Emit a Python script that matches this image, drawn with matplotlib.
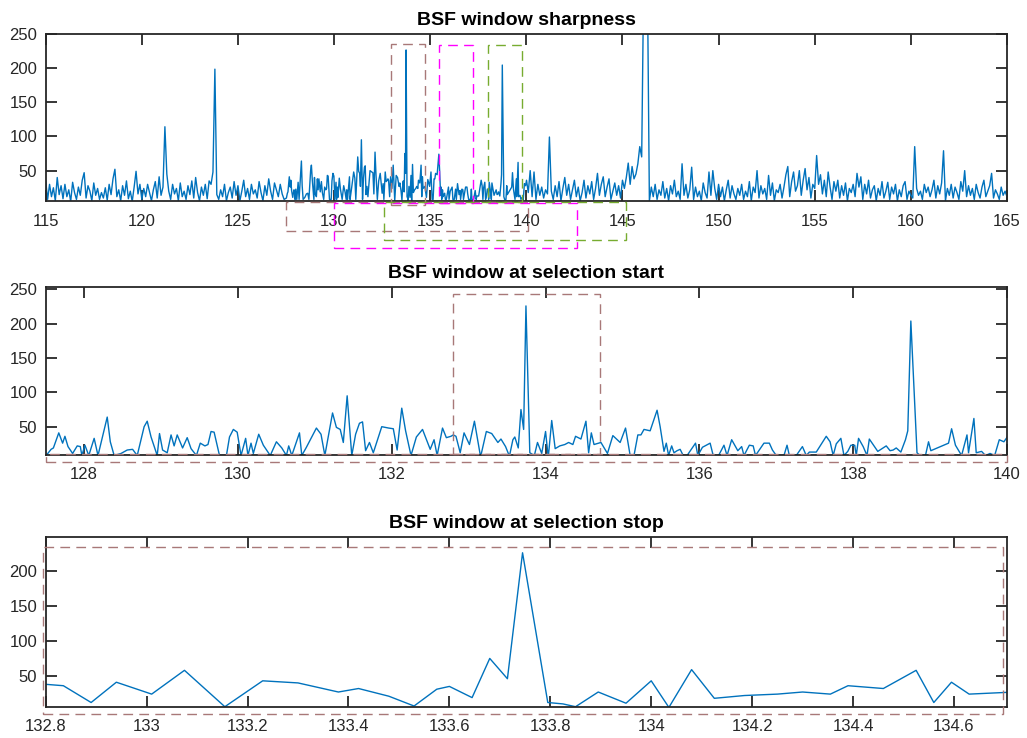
import numpy as np
import matplotlib.pyplot as plt
from matplotlib.patches import Rectangle
from matplotlib.ticker import FuncFormatter


plt.rcParams['font.family'] = ['Liberation Sans', 'DejaVu Sans']

# sharpness, coarse part left of the zoomed window (115.0 .. 127.4, step 0.1)
LEFT_START = 115.0
Y_LEFT = [
    35, 8, 30, 12, 25, 6, 40, 15, 28, 9,
    30, 12, 22, 5, 33, 18, 8, 26, 14, 36,
    47, 10, 28, 20, 6, 32, 14, 24, 8, 18,
    10, 25, 7, 30, 15, 38, 52, 12, 22, 6,
    28, 14, 35, 9, 20, 5, 26, 49, 16, 30,
    8, 24, 12, 30, 18, 6, 22, 34, 10, 41,
    14, 26, 114, 45, 20, 8, 30, 16, 24, 6,
    32, 12, 20, 8, 28, 15, 35, 10, 40, 18,
    6, 26, 14, 30, 9, 35, 30, 48, 198, 15,
    8, 22, 12, 30, 6, 18, 26, 10, 34, 14,
    28, 6, 20, 36, 12, 24, 8, 30, 16, 22,
    10, 34, 18, 6, 28, 14, 38, 20, 8, 32,
    22, 12, 30, 16, 8,
]

# sharpness, fine part (127.5 .. 140)
X_MID = [
    127.52, 127.57, 127.60, 127.67, 127.72, 127.75, 127.79, 127.85, 127.91, 127.95,
    127.97, 128.01, 128.06, 128.13, 128.18, 128.30, 128.34, 128.39, 128.48, 128.56,
    128.63, 128.69, 128.78, 128.82, 128.87, 128.95, 128.98, 129.02, 129.08, 129.13,
    129.17, 129.21, 129.28, 129.34, 129.39, 129.46, 129.51, 129.57, 129.61, 129.65,
    129.69, 129.76, 129.85, 129.89, 129.94, 129.99, 130.04, 130.10, 130.13, 130.17,
    130.20, 130.27, 130.33, 130.42, 130.50, 130.57, 130.63, 130.66, 130.70, 130.80,
    130.83, 130.89, 131.02, 131.08, 131.13, 131.23, 131.28, 131.33, 131.37, 131.42,
    131.48, 131.53, 131.58, 131.62, 131.66, 131.71, 131.76, 131.87, 131.96, 132.02,
    132.07, 132.13, 132.18, 132.25, 132.32, 132.40, 132.50, 132.55, 132.59, 132.66,
    132.71, 132.77,
    132.80, 132.835, 132.89, 132.94, 133.01, 133.075, 133.155, 133.23, 133.30, 133.38,
    133.42, 133.48, 133.53, 133.575, 133.60, 133.645, 133.68, 133.715, 133.745, 133.795,
    133.825, 133.85, 133.895, 133.95, 134.00, 134.035, 134.08, 134.125, 134.185, 134.25,
    134.30, 134.355, 134.39, 134.46, 134.525, 134.56, 134.595, 134.63, 134.72,
    134.805, 134.875, 134.97, 135.04, 135.10, 135.15, 135.20, 135.24, 135.28, 135.36,
    135.45, 135.49, 135.54, 135.57, 135.60, 135.64, 135.67, 135.71, 135.75, 135.79,
    135.84, 135.95, 135.98, 136.04, 136.14, 136.18, 136.25, 136.32, 136.36, 136.42,
    136.50, 136.55, 136.58, 136.65, 136.70, 136.73, 136.84, 136.91, 136.95, 137.00,
    137.10, 137.14, 137.17, 137.26, 137.34, 137.39, 137.43, 137.52, 137.65, 137.70,
    137.74, 137.78, 137.84, 137.88, 137.93, 137.97, 138.02, 138.04, 138.07, 138.13,
    138.18, 138.21, 138.32, 138.43, 138.48, 138.52, 138.56, 138.62, 138.68, 138.71,
    138.75, 138.83, 138.87, 138.94, 138.98, 139.01, 139.24, 139.28, 139.33, 139.41,
    139.48, 139.50, 139.57, 139.60, 139.67, 139.72, 139.78, 139.84, 139.90, 139.96,
    140.01,
]
Y_MID = [
    10, 17, 19, 41, 26, 36, 21, 11, 22, 21,
    8, 23, 8, 33, 8, 64, 28, 8, 11, 16,
    17, 8, 50, 58, 35, 8, 40, 16, 12, 38,
    22, 38, 19, 34, 18, 8, 26, 22, 24, 43,
    42, 8, 8, 35, 46, 42, 8, 33, 8, 26,
    11, 39, 23, 8, 28, 19, 8, 22, 8, 41,
    8, 20, 48, 39, 8, 70, 49, 46, 27, 95,
    8, 39, 55, 57, 15, 27, 12, 50, 48, 47,
    16, 77, 44, 8, 35, 46, 17, 31, 8, 48,
    34, 36,
    38, 36, 12, 41, 24, 58, 6, 43, 40, 27,
    32, 21, 7, 31, 35, 19, 75, 46, 226, 12,
    10, 6, 27, 11, 43, 5, 59, 18, 22, 24,
    27, 24, 36, 32, 58, 12, 41, 24, 27,
    11, 37, 27, 48, 8, 8, 38, 38, 46, 44,
    74, 50, 14, 26, 8, 22, 12, 15, 17, 8,
    8, 26, 8, 20, 26, 8, 8, 23, 8, 31,
    15, 21, 8, 23, 22, 8, 26, 26, 16, 8,
    8, 23, 8, 8, 21, 8, 13, 13, 36, 28,
    8, 25, 33, 8, 14, 23, 23, 8, 33, 21,
    8, 32, 14, 22, 15, 16, 19, 13, 31, 44,
    204, 12, 8, 8, 28, 15, 26, 47, 23, 8,
    38, 12, 62, 12, 14, 8, 11, 8, 31, 28,
    36,
]

# sharpness, coarse part right of the zoomed window (140.1 .. 165.0, step 0.1)
RIGHT_START = 140.1
Y_RIGHT = [
    18, 50, 12, 48, 8, 30, 14, 26, 10, 22,
    16, 99, 20, 8, 28, 12, 34, 6, 24, 40,
    14, 30, 8, 22, 36, 12, 26, 6, 18, 36,
    10, 28, 16, 34, 8, 24, 46, 14, 30, 41,
    12, 26, 38, 8, 20, 32, 14, 28, 10, 36,
    24, 40, 61, 30, 56, 38, 45, 60, 85, 70,
    320, 330, 320, 6, 26, 12, 30, 8, 22, 14,
    34, 10, 24, 6, 28, 16, 36, 12, 20, 8,
    60, 14, 30, 10, 22, 55, 8, 26, 12, 20,
    6, 32, 18, 10, 48, 14, 50, 24, 8, 30,
    12, 26, 6, 22, 36, 10, 28, 16, 8, 24,
    14, 30, 8, 20, 12, 34, 6, 26, 18, 50,
    10, 28, 16, 24, 8, 43, 14, 32, 6, 22,
    18, 30, 10, 26, 44, 56, 12, 34, 48, 20,
    28, 50, 14, 36, 53, 22, 40, 10, 30, 24,
    72, 30, 44, 16, 36, 12, 48, 26, 8, 34,
    20, 36, 10, 28, 14, 32, 6, 24, 18, 30,
    12, 46, 26, 41, 8, 30, 16, 36, 10, 22,
    28, 6, 24, 14, 34, 10, 20, 33, 8, 26,
    16, 30, 6, 22, 12, 28, 34, 8, 20, 14,
    10, 85, 24, 14, 20, 8, 30, 18, 26, 12,
    22, 36, 10, 28, 16, 32, 79, 6, 24, 14,
    30, 10, 26, 18, 8, 34, 20, 50, 12, 28,
    14, 24, 8, 30, 18, 10, 26, 36, 12, 20,
    28, 46, 10, 22, 16, 8, 26, 14, 20, 12,
]

# selection boxes: (x0, x1, y0, y1, colour key)
BOXES_TOP = [
    (132.97, 134.71, 0.3, 234.6, 'brown'),
    (135.48, 137.20, 3.0, 233.2, 'magenta'),
    (138.03, 139.77, 4.7, 233.2, 'green'),
    (127.50, 140.10, -38.1, 4.7, 'brown'),
    (130.00, 142.66, -63.4, 3.0, 'magenta'),
    (132.60, 145.20, -50.6, 4.7, 'green'),
]
BOXES_MID = [
    (132.80, 134.71, 9.5, 242.7, 'brown'),
    (127.50, 140.00, -1.0, 9.5, 'brown'),
]
BOXES_BOT = [
    (132.795, 134.698, -4.7, 234.7, 'brown'),
]

TITLES = ['BSF window sharpness', 'BSF window at selection start', 'BSF window at selection stop']
XLIMS = [(115, 165), (127.5, 140), (132.8, 134.705)]
YLIMS = [(5, 250), (9.2, 254), (6, 249)]
XTICKS = [np.arange(115, 166, 5), np.arange(128, 141, 2), np.arange(132.8, 134.65, 0.2)]

COLORS = {'brown': '#a87878', 'magenta': '#ff00ff', 'green': '#77ac30'}
LINE = '#0072bd'
INK = '#262626'

x_left = np.round(LEFT_START + 0.1 * np.arange(len(Y_LEFT)), 2)
x_right = np.round(RIGHT_START + 0.1 * np.arange(len(Y_RIGHT)), 2)
xs = np.concatenate([x_left, X_MID, x_right])
ys = np.concatenate([Y_LEFT, Y_MID, Y_RIGHT])

fig = plt.figure(figsize=(10.27, 7.38), dpi=100)
positions = [
    [0.0445, 0.727, 0.936, 0.2276],
    [0.0445, 0.3839, 0.936, 0.2276],
    [0.0445, 0.0424, 0.936, 0.2304],
]
boxes = [BOXES_TOP, BOXES_MID, BOXES_BOT]

for i, pos in enumerate(positions):
    ax = fig.add_axes(pos)
    ax.plot(xs, ys, color=LINE, lw=1.0)
    ax.set_xlim(*XLIMS[i])
    ax.set_ylim(*YLIMS[i])
    ax.set_xticks(XTICKS[i])
    ax.set_yticks([50, 100, 150, 200, 250] if i < 2 else [50, 100, 150, 200])
    ax.xaxis.set_major_formatter(FuncFormatter(lambda v, p: '%g' % round(v, 2)))
    ax.tick_params(direction='in', length=8, width=1.3, top=True, right=True,
                   labelsize=12, colors=INK)
    ax.tick_params(axis='x', pad=9)
    ax.tick_params(axis='y', pad=6)
    for s in ax.spines.values():
        s.set_linewidth(1.3)
        s.set_color(INK)
    ax.set_title(TITLES[i], fontsize=14, fontweight='bold', pad=6)

    for x0, x1, y0, y1, c in boxes[i]:
        ax.add_patch(Rectangle((x0, y0), x1 - x0, y1 - y0, fill=False,
                               edgecolor=COLORS[c], lw=1.0, linestyle=(0, (7, 4.5)),
                               clip_on=False, zorder=3))

fig.savefig('out.png', dpi=100)
